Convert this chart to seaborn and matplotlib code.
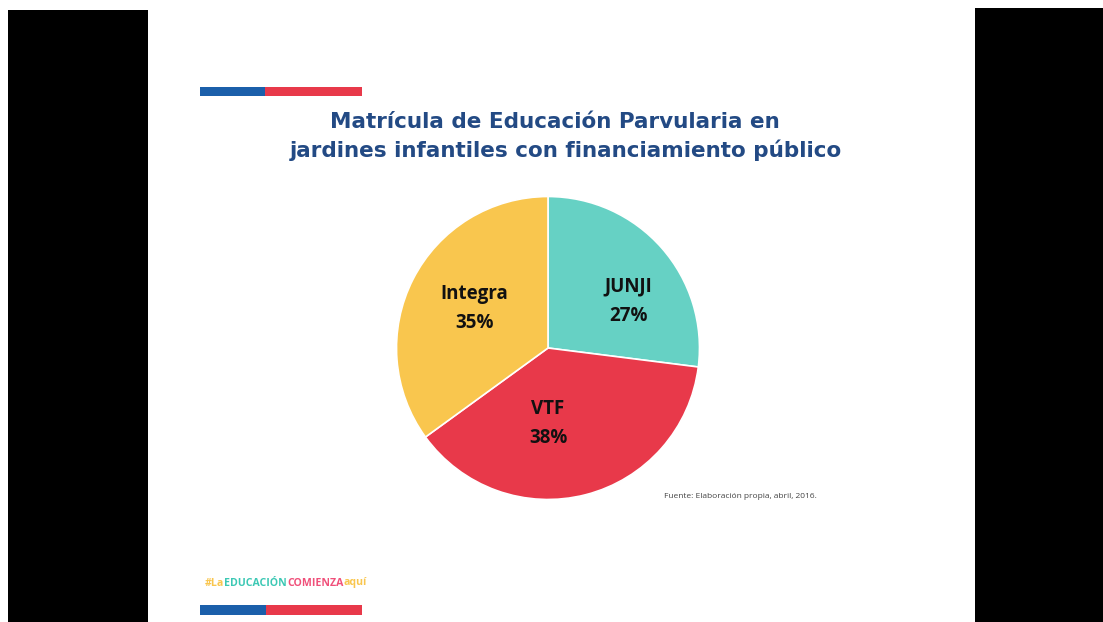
import matplotlib
matplotlib.use("Agg")
import seaborn as sns
from matplotlib import pyplot as plt
from matplotlib.patches import Rectangle
from matplotlib.transforms import offset_copy

# data
categories = ["JUNJI", "VTF", "Integra"]
shares = [27, 38, 35]
slice_colors = ["#66D1C4", "#E8394A", "#F9C64E"]
# label anchor (fraction of radius, x / y) for each slice, as on the slide
label_offsets = [(0.53, 0.31), (0.0, -0.50), (-0.485, 0.26)]

title_lines = ["Matrícula de Educación Parvularia en",
               "jardines infantiles con financiamiento público"]
source_note = "Fuente: Elaboración propia, abril, 2016."
logo_parts = ["#La", "EDUCACIÓN", "COMIENZA", "aquí"]
logo_colors = ["#F9C64E", "#3CC8B4", "#F0507A", "#F9C64E"]

W, H = 1103, 622
BLUE = "#1B5FAA"
RED = "#E8394A"
TITLE_BLUE = "#234A84"

sns.set_theme(style="white")
plt.rcParams["font.family"] = ["Open Sans", "DejaVu Sans"]

fig = plt.figure(figsize=(W / 100, H / 100), dpi=100)
fig.patch.set_facecolor("white")


def px_rect(x0, y0, x1, y1, color):
    # rectangle given in pixel coords, y measured from top
    fig.patches.append(Rectangle((x0 / W, 1 - y1 / H), (x1 - x0) / W, (y1 - y0) / H,
                                 transform=fig.transFigure, facecolor=color,
                                 edgecolor="none", zorder=0))


# black side bands around the slide
px_rect(8, 10, 148, H, "black")
px_rect(975, 8, W, H, "black")

# flag bars
px_rect(200, 87, 265, 96, BLUE)
px_rect(265, 87, 362, 96, RED)
px_rect(200, 605, 266, 615, BLUE)
px_rect(266, 605, 362, 615, RED)

# title
fig.text(555 / W, 1 - 122 / H, title_lines[0], ha="center", va="center",
         fontsize=15.5, fontweight="bold", color=TITLE_BLUE, family="DejaVu Sans")
fig.text(566 / W, 1 - 150 / H, title_lines[1], ha="center", va="center",
         fontsize=15.5, fontweight="bold", color=TITLE_BLUE, family="DejaVu Sans")

# pie
cx, cy, r = 548, 348, 153
ax = fig.add_axes([(cx - r) / W, 1 - (cy + r) / H, 2 * r / W, 2 * r / H])
labels_iter = iter(categories)
wedges, texts, autotexts = ax.pie(
    shares, colors=slice_colors, startangle=90, counterclock=False,
    autopct=lambda p: f"{next(labels_iter)}\n{p:.0f}%", pctdistance=0.6,
    wedgeprops=dict(edgecolor="white", linewidth=1.2),
    textprops=dict(fontsize=13.5, fontweight="bold", color="#111111", linespacing=1.6))
for t, (ox, oy) in zip(autotexts, label_offsets):
    t.set_position((ox, oy))
ax.set_xlim(-1.01, 1.01)
ax.set_ylim(-1.01, 1.01)
ax.set_aspect("equal")
ax.axis("off")

# source note
fig.text(664 / W, 1 - 497 / H, source_note, ha="left", va="center",
         fontsize=6, color="#444444")

# campaign logo, pieces chained one after the other
fig.canvas.draw()
renderer = fig.canvas.get_renderer()
trans = fig.transFigure
for part, col in zip(logo_parts, logo_colors):
    t = fig.text(205 / W, 1 - 583 / H, part, ha="left", va="center", fontsize=7.6,
                 fontweight="bold", color=col, transform=trans)
    w = t.get_window_extent(renderer).width
    trans = offset_copy(trans, fig=fig, x=w * 72 / fig.dpi, y=0, units="points")

fig.savefig("out.png", dpi=100, facecolor="white")
